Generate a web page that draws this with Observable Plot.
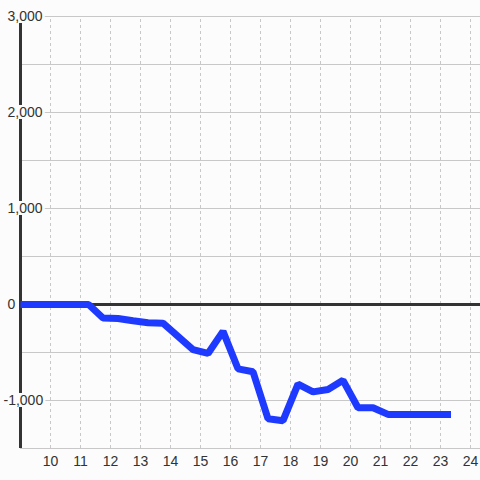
<!DOCTYPE html>
<html>
<head>
<meta charset="utf-8">
<script src="https://cdn.jsdelivr.net/npm/d3@7"></script>
<script src="https://cdn.jsdelivr.net/npm/@observablehq/plot@0.6"></script>
<style>
  html, body { margin: 0; padding: 0; background: #fbfcfb; }
</style>
</head>
<body>
<div id="chart"></div>
<script>
// Series
const xs = [9, 11.27, 11.75, 12.25, 12.75, 13.25, 13.75, 14.75, 15.25, 15.75, 16.25, 16.75, 17.25, 17.75, 18.25, 18.75, 19.25, 19.75, 20.25, 20.75, 21.25, 23.35];
const ys = [0, 0, -140, -145, -170, -190, -195, -470, -510, -280, -670, -700, -1190, -1210, -830, -910, -885, -790, -1075, -1075, -1145, -1145];

// Axis ticks
const xTicks = [10, 11, 12, 13, 14, 15, 16, 17, 18, 19, 20, 21, 22, 23, 24];
const yTicks = [-1000, 0, 1000, 2000, 3000];
const yGrid = [-1500, -1000, -500, 0, 500, 1000, 1500, 2000, 2500, 3000];

const data = xs.map((x, i) => ({x, y: ys[i]}));
const fmt = d => d.toLocaleString("en-US");
const bg = "#fbfcfb";
const font = "'Liberation Sans', Arial, sans-serif";

const chart = Plot.plot({
  width: 480,
  height: 480,
  marginLeft: 20,
  marginRight: 0,
  marginTop: 16,
  marginBottom: 32,
  style: {background: bg, fontFamily: font, fontSize: "14px"},
  x: {domain: [9, 24.333], axis: null},
  y: {domain: [-1500, 3000], axis: null},
  marks: [
    Plot.ruleY(yGrid, {stroke: "#c8c8c8", strokeWidth: 1}),
    Plot.ruleX(xTicks, {y1: -1500, y2: 3000, stroke: "#c8c8c8", strokeWidth: 1, strokeDasharray: "3,3"}),
    Plot.ruleX([9], {y1: -1500, y2: 3000, stroke: "#333", strokeWidth: 3}),
    Plot.ruleY([0], {stroke: "#333", strokeWidth: 3}),
    Plot.line(data, {x: "x", y: "y", stroke: "#1f3aff", strokeWidth: 7, strokeLinejoin: "miter", strokeLinecap: "butt"}),
    Plot.text(xTicks, {x: d => d, y: () => -1500, dy: 13, text: d => String(d), fill: "#333", fontSize: 14, fontFamily: font}),
    Plot.text(yTicks.filter(d => d >= 0), {x: () => 9, y: d => d, dx: -13, textAnchor: "start", text: fmt, fill: "#333", fontSize: 14, fontFamily: font}),
    Plot.text(yTicks.filter(d => d < 0), {x: () => 9, y: d => d, dx: -17, textAnchor: "start", text: fmt, fill: "#333", fontSize: 14, fontFamily: font})
  ]
});

document.getElementById("chart").appendChild(chart);

// Give the y tick labels a background box that hides the lines behind them
const groups = chart.querySelectorAll('g[aria-label="text"]');
const yGroups = [groups[groups.length - 2], groups[groups.length - 1]];
for (const g of yGroups) {
  for (const t of Array.from(g.querySelectorAll("text"))) {
    const bb = t.getBBox();
    const cy = bb.y + bb.height / 2;
    const r = document.createElementNS("http://www.w3.org/2000/svg", "rect");
    r.setAttribute("x", bb.x - 1);
    r.setAttribute("y", cy - 7);
    r.setAttribute("width", bb.width + 3);
    r.setAttribute("height", 14);
    r.setAttribute("fill", bg);
    const tr = t.getAttribute("transform");
    if (tr) r.setAttribute("transform", tr);
    g.insertBefore(r, t);
  }
}
</script>
</body>
</html>
